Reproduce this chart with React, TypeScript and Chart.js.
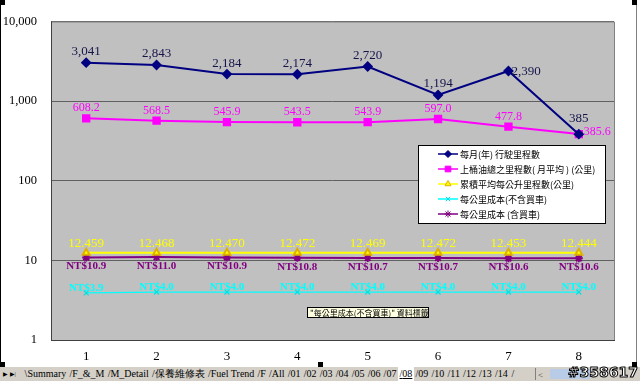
import React, { useEffect, useRef } from "react";
import { Chart, registerables } from "chart.js";
import { drawPoint } from "chart.js/helpers";

Chart.register(...registerables);

const categories = ["1", "2", "3", "4", "5", "6", "7", "8"];
const monthlyKm = [3041, 2843, 2184, 2174, 2720, 1194, 2390, 385];
const tankKm = [608.2, 568.5, 545.9, 543.5, 543.9, 597.0, 477.8, 385.6];
const kmPerLiter = [12.459, 12.468, 12.47, 12.472, 12.469, 12.472, 12.453, 12.444];
const costNoCar = [3.9, 4.0, 4.0, 4.0, 4.0, 4.0, 4.0, 4.0];
const costWithCar = [10.9, 11.0, 10.9, 10.8, 10.7, 10.7, 10.6, 10.6];
const yTicks = [1, 10, 100, 1000, 10000];
const seriesNames = [
  "每月(年) 行駛里程數",
  "上桶油總之里程數( 月平均 ) (公里)",
  "累積平均每公升里程數(公里)",
  "每公里成本(不含買車)",
  "每公里成本 (含買車)",
];
const noteText = "\"每公里成本(不含買車)\" 資料標籤";
const tabNames = [
  "Summary", "F_&_M", "M_Detail", "保養維修表", "Fuel Trend", "F", "All",
  "01", "02", "03", "04", "05", "06", "07", "08", "09", "10", "11", "12", "13", "14",
];
const activeTab = "08";

const SERIF = '"Liberation Serif", "Times New Roman", serif';
const CJK = '"Noto Sans CJK TC", "Noto Sans", sans-serif';

const labelSpecs = [
  { font: `13px ${SERIF}`, color: "#14144a", dy: -11, fmt: (v: number) => v.toLocaleString("en-US") },
  { font: `12px ${SERIF}`, color: "#ff00ff", dy: -10, fmt: (v: number) => v.toFixed(1) },
  { font: `13px ${SERIF}`, color: "#ffff00", dy: -9, fmt: (v: number) => v.toFixed(3) },
  { font: `bold 11px ${SERIF}`, color: "#00ffff", dy: -5, fmt: (v: number) => "NT$" + v.toFixed(1) },
  { font: `bold 11px ${SERIF}`, color: "#800080", dy: 9, fmt: (v: number) => "NT$" + v.toFixed(1) },
];

const bgPlugin = {
  id: "plotBg",
  beforeDraw(chart: any) {
    const { ctx, chartArea: a } = chart;
    ctx.save();
    ctx.fillStyle = "#c0c0c0";
    ctx.fillRect(a.left, a.top, a.right - a.left, a.bottom - a.top);
    ctx.restore();
  },
  beforeDatasetsDraw(chart: any) {
    const { ctx, chartArea: a } = chart;
    ctx.save();
    ctx.lineWidth = 1;
    ctx.strokeStyle = "#808080";
    ctx.beginPath();
    ctx.moveTo(a.left, a.top + 0.5);
    ctx.lineTo(a.right + 0.5, a.top + 0.5);
    ctx.lineTo(a.right + 0.5, a.bottom);
    ctx.stroke();
    ctx.strokeStyle = "#404040";
    ctx.beginPath();
    ctx.moveTo(a.left + 0.5, a.top);
    ctx.lineTo(a.left + 0.5, a.bottom + 0.5);
    ctx.lineTo(a.right + 1, a.bottom + 0.5);
    ctx.stroke();
    ctx.restore();
  },
};

const labelPlugin = {
  id: "dataLabels",
  afterDatasetsDraw(chart: any) {
    const ctx = chart.ctx;
    ctx.save();
    ctx.textBaseline = "middle";
    chart.data.datasets.forEach((ds: any, i: number) => {
      const meta = chart.getDatasetMeta(i);
      const s = labelSpecs[i];
      ctx.font = s.font;
      ctx.fillStyle = s.color;
      meta.data.forEach((pt: any, j: number) => {
        let x = pt.x;
        let y = pt.y + s.dy;
        let align: CanvasTextAlign = "center";
        if (i === 0 && j === ds.data.length - 2) { x = pt.x + 3; y = pt.y + 1; align = "left"; }
        if (i === 0 && j === ds.data.length - 1) { y = pt.y - 16; }
        if (i === 1 && j === ds.data.length - 1) { x = pt.x + 5; y = pt.y - 2; align = "left"; }
        ctx.textAlign = align;
        ctx.fillText(s.fmt(ds.data[j]), x, y);
      });
    });
    ctx.restore();
  },
};

const overlayPlugin = {
  id: "overlay",
  afterDraw(chart: any) {
    const ctx = chart.ctx;
    ctx.save();
    // legend box
    const lx = 418, ly = 145, lw = 187, lh = 78;
    ctx.fillStyle = "#ffffff";
    ctx.fillRect(lx, ly, lw, lh);
    ctx.strokeStyle = "#000000";
    ctx.lineWidth = 1;
    ctx.strokeRect(lx + 0.5, ly + 0.5, lw, lh);
    ctx.font = `9px ${CJK}`;
    ctx.textBaseline = "middle";
    ctx.textAlign = "left";
    chart.data.datasets.forEach((ds: any, i: number) => {
      const y = ly + 9 + i * 15;
      ctx.strokeStyle = ds.borderColor;
      ctx.lineWidth = 1.5;
      ctx.beginPath();
      ctx.moveTo(438, y);
      ctx.lineTo(458, y);
      ctx.stroke();
      ctx.fillStyle = ds.pointBackgroundColor;
      ctx.strokeStyle = ds.pointBorderColor;
      ctx.lineWidth = 1;
      drawPoint(ctx, { pointStyle: ds.pointStyle, radius: ds.pointRadius - 0.5, rotation: 0, borderWidth: 1 } as any, 448, y);
      ctx.fillStyle = "#000000";
      ctx.fillText(ds.label, 460, y + 0.5);
    });
    // note textbox
    ctx.fillStyle = "#ffffe1";
    ctx.fillRect(307, 307, 121, 10);
    ctx.strokeStyle = "#000000";
    ctx.strokeRect(307.5, 307.5, 121, 10);
    ctx.fillStyle = "#000000";
    ctx.font = `8px ${CJK}`;
    ctx.fillText(noteText, 310, 312.5);
    // chart frame
    ctx.fillStyle = "#000000";
    ctx.fillRect(0, 0, 1, 367);
    ctx.fillStyle = "#808080";
    ctx.fillRect(636, 0, 1, 367);
    ctx.fillStyle = "#000000";
    [[0, 0], [632, 0], [0, 362], [318, 362], [632, 362]].forEach(([hx, hy]) => ctx.fillRect(hx, hy, 5, 5));
    ctx.restore();
  },
};

function ChartView() {
  const ref = useRef<HTMLCanvasElement>(null);
  useEffect(() => {
    if (!ref.current) return;
    const chart = new Chart(ref.current, {
      type: "line",
      data: {
        labels: categories,
        datasets: [
          {
            label: seriesNames[0], data: monthlyKm, borderColor: "#000080", borderWidth: 2,
            pointStyle: "rectRot", pointRadius: 4, pointBackgroundColor: "#000080", pointBorderColor: "#000080",
          },
          {
            label: seriesNames[1], data: tankKm, borderColor: "#ff00ff", borderWidth: 2,
            pointStyle: "rect", pointRadius: 4.5, pointBackgroundColor: "#ff00ff", pointBorderColor: "#ff00ff",
          },
          {
            label: seriesNames[2], data: kmPerLiter, borderColor: "#ffff00", borderWidth: 2,
            pointStyle: "triangle", pointRadius: 4, pointBackgroundColor: "#ffff00", pointBorderColor: "#e0b000",
          },
          {
            label: seriesNames[3], data: costNoCar, borderColor: "#00ffff", borderWidth: 1.2,
            pointStyle: "crossRot", pointRadius: 3.5, pointBackgroundColor: "#00ffff", pointBorderColor: "#00e0e0",
          },
          {
            label: seriesNames[4], data: costWithCar, borderColor: "#800080", borderWidth: 2,
            pointStyle: "star", pointRadius: 4, pointBackgroundColor: "#800080", pointBorderColor: "#800080",
          },
        ] as any,
      },
      options: {
        responsive: false,
        animation: false,
        devicePixelRatio: 1,
        layout: { padding: { top: 20, right: 26, left: 0, bottom: 0 } },
        plugins: { legend: { display: false }, tooltip: { enabled: false } },
        elements: { line: { tension: 0 } },
        scales: {
          x: {
            type: "category",
            offset: true,
            grid: { display: false, drawTicks: false },
            border: { display: false },
            ticks: { color: "#000000", font: { family: SERIF, size: 13 }, padding: 9 },
            afterFit: (s: any) => { s.height = 27; },
          },
          y: {
            type: "logarithmic",
            min: 1,
            max: 10000,
            afterBuildTicks: (s: any) => { s.ticks = yTicks.map((v) => ({ value: v, major: true })); },
            grid: { color: "#606060", lineWidth: 1, drawTicks: false },
            border: { display: false },
            ticks: {
              color: "#000000",
              font: { family: SERIF, size: 12.5 },
              padding: 14,
              callback: (v: any) => Number(v).toLocaleString("en-US"),
            },
            afterFit: (s: any) => { s.width = 51; },
          },
        },
      } as any,
      plugins: [bgPlugin, labelPlugin, overlayPlugin],
    });
    return () => chart.destroy();
  }, []);
  return <canvas ref={ref} width={640} height={367} style={{ display: "block", width: 640, height: 367 }} />;
}

export default function App() {
  return (
    <div style={{ position: "fixed", left: 0, top: 0, width: 640, height: 381, background: "#ffffff", overflow: "hidden" }}>
      <ChartView />
      <div
        style={{
          position: "absolute", left: 0, top: 367, width: 640, height: 14, background: "#d4d0c8",
          fontFamily: SERIF, fontSize: 10, lineHeight: "14px", whiteSpace: "nowrap", display: "flex", alignItems: "center",
        }}
      >
        <span style={{ width: 20, fontSize: 6, paddingLeft: 3 }}>▶ ▶|</span>
        <span style={{ display: "inline-flex" }}>
          {tabNames.map((t, i) => (
            <span
              key={i}
              style={{
                padding: "0 1.6px",
                background: t === activeTab ? "#ffffff" : "transparent",
                textDecoration: t === activeTab ? "underline" : "none",
              }}
            >
              {i === 0 ? "\\" : "/"}{t}
            </span>
          ))}
          <span style={{ padding: "0 2px" }}>/</span>
        </span>
        <div style={{ position: "absolute", left: 535, top: 1, width: 1, height: 12, background: "#808080" }} />
        <div style={{ position: "absolute", left: 538, top: 1, width: 10, height: 12, fontSize: 9, color: "#404040" }}>&lt;</div>
        <div style={{ position: "absolute", left: 550, top: 2, width: 40, height: 10, background: "#b8cce8" }} />
        <div
          style={{
            position: "absolute", right: 2, top: -2, fontFamily: '"DejaVu Sans", sans-serif', fontWeight: "bold",
            fontSize: 14, color: "#ffffff", WebkitTextStroke: "1px #000000", letterSpacing: 0,
          }}
        >
          #358617
        </div>
      </div>
    </div>
  );
}
